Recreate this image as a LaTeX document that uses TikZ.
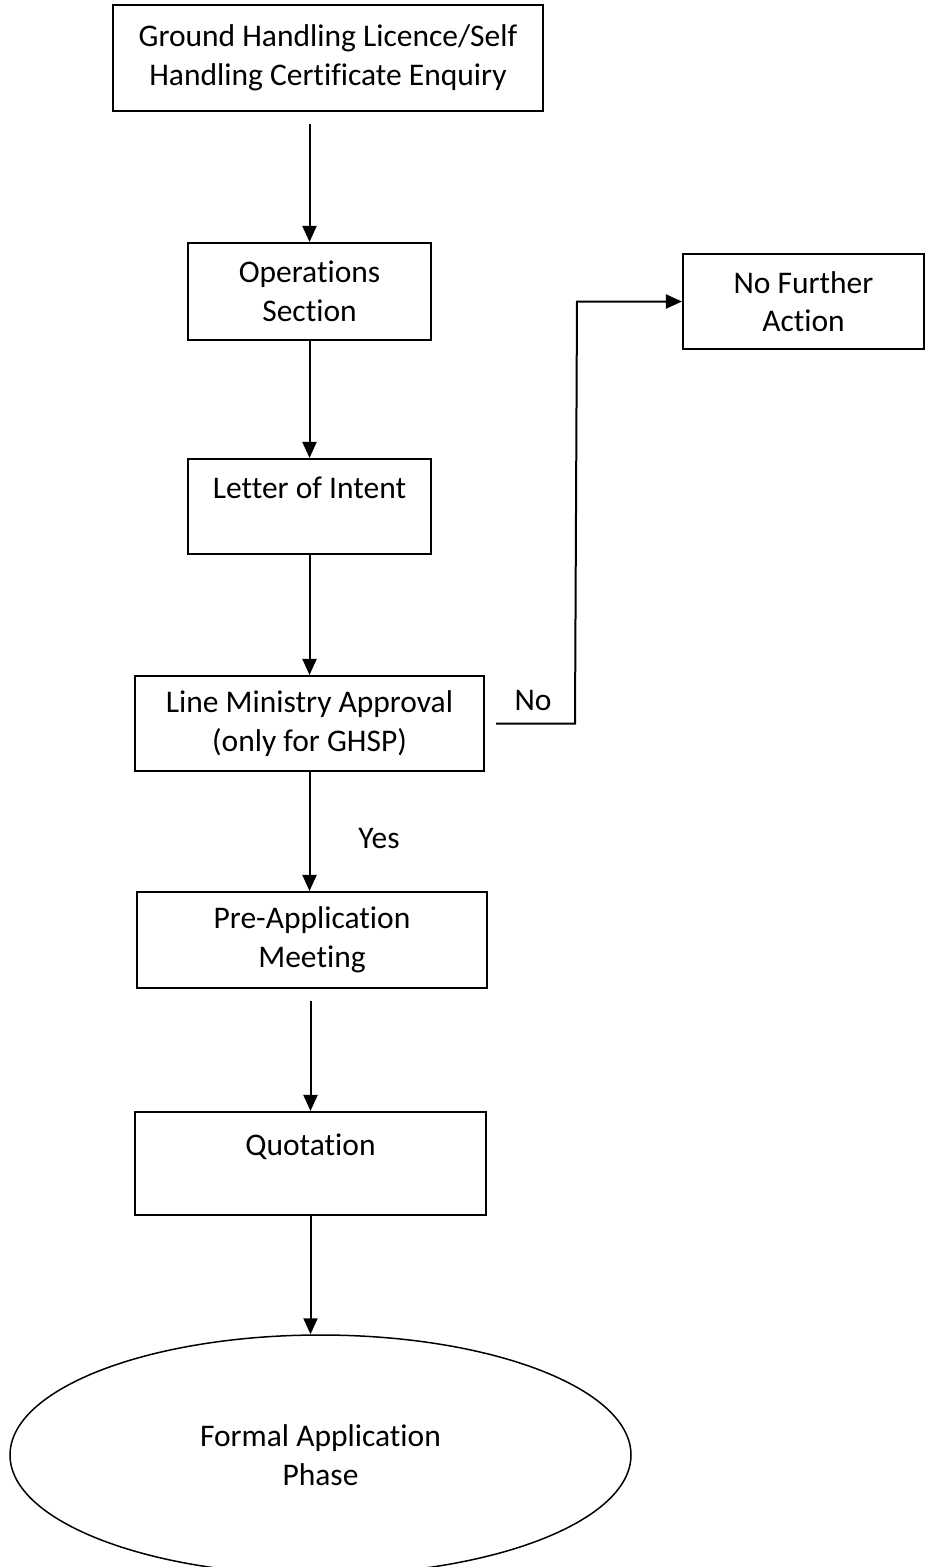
\documentclass[tikz,border=0pt]{standalone}
\usepackage{fontspec}
\setmainfont{Carlito}[Ligatures=NoCommon]
\usetikzlibrary{arrows.meta,shapes.geometric,calc}
\begin{document}
\begin{tikzpicture}[x=1pt,y=1pt,
  box/.style={draw,line width=2.1pt,align=center,inner sep=0pt,font=\fontsize{31.5}{38.5}\selectfont},
  arr/.style={line width=2pt,-{Triangle[length=16pt,width=14pt]}},
  lbl/.style={font=\fontsize{31.5}{38.5}\selectfont,inner sep=0pt}]
\useasboundingbox (0,0) rectangle (925,-1567);
\clip (0,0) rectangle (925,-1567);
\fill[white] (0,0) rectangle (925,-1567);
\node[box,minimum width=430,minimum height=106] (gh) at (328,-58) {Ground Handling Licence/Self\\Handling Certificate Enquiry};
\node[box,minimum width=243,minimum height=97] (ops) at (309.5,-291.5) {Operations\\Section};
\node[box,minimum width=243,minimum height=95] (letter) at (309.5,-506.5) {Letter of Intent\\\mbox{}};
\node[box,minimum width=349,minimum height=95] (lm) at (309.5,-723.5) {Line Ministry Approval\\(only for GHSP)};
\node[box,minimum width=350,minimum height=96] (pre) at (312,-940) {Pre-Application\\Meeting};
\node[box,minimum width=351,minimum height=103] (quot) at (310.5,-1163.5) {Quotation\\\mbox{}};
\node[box,minimum width=241,minimum height=95] (nfa) at (803.5,-301.5) {No Further\\Action};
\node[box,ellipse,line width=1.5pt,minimum width=621,minimum height=240] (ell) at (320.5,-1455) {Formal Application\\Phase};
\node[lbl] (no) at (533,-700) {No};
\node[lbl] (yes) at (379,-838) {Yes};
\coordinate (s1) at ($(gh.south -| ops.north)+(0,-12)$);
\coordinate (s2) at ($(pre.south -| quot.north)+(0,-12)$);
\coordinate (n0) at ($(lm.east)+(11,0)$);
\coordinate (n1) at (575,-723.5);
\coordinate (n2) at (577,-301.5);
\draw[arr] (s1) -- (ops.north);
\draw[arr] (ops.south) -- (letter.north);
\draw[arr] (letter.south) -- (lm.north);
\draw[arr] (lm.south) -- (lm.south |- pre.north);
\draw[arr] (s2) -- (quot.north);
\draw[arr] (quot.south) -- (quot.south |- ell.north);
\draw[arr] (n0) -- (n1) -- (n2) -- (nfa.west);
\end{tikzpicture}
\end{document}
